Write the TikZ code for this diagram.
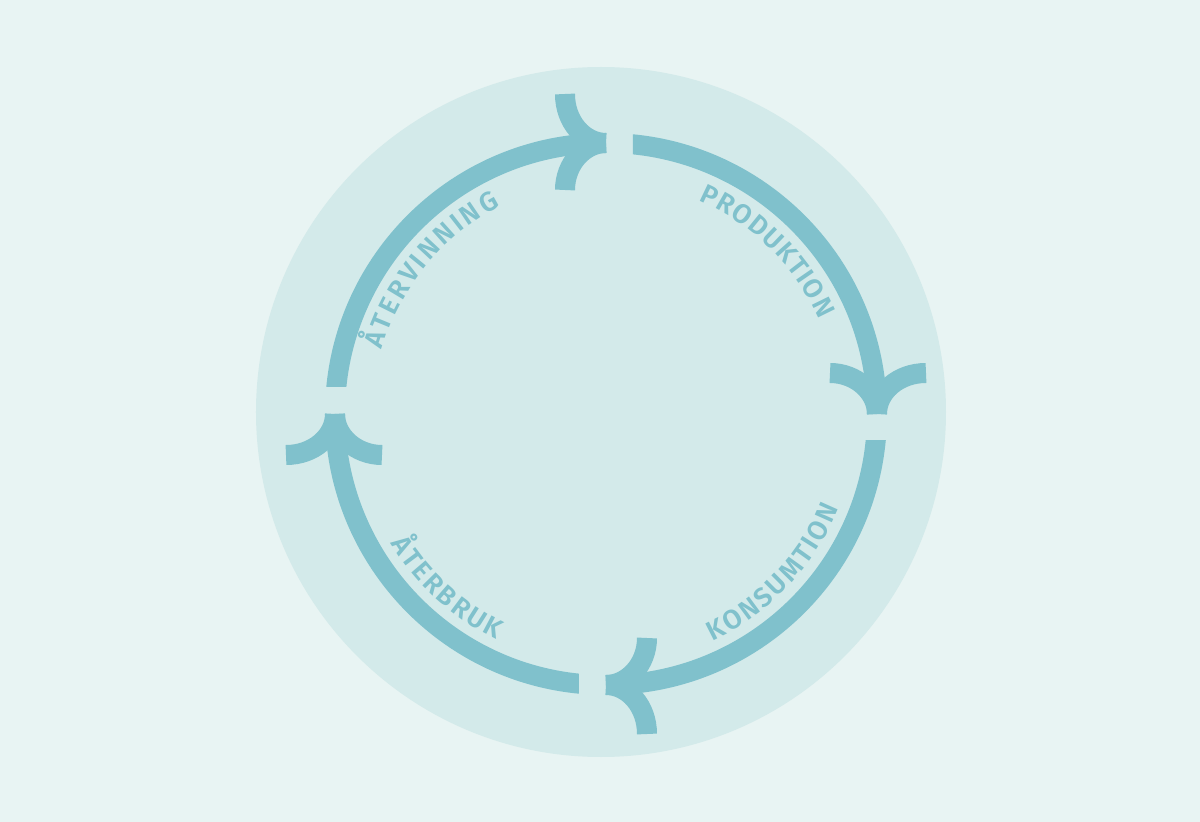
\documentclass[tikz,border=0pt]{standalone}
\usepackage{fontspec}
\usetikzlibrary{decorations.text}
\newfontfamily\lbl{Fira Sans SemiBold}
\definecolor{bgc}{HTML}{E8F4F3}
\definecolor{circc}{HTML}{D3EAEA}
\definecolor{arcc}{HTML}{80C1CC}
\begin{document}
\begin{tikzpicture}[x=1pt,y=1pt,
  ring/.style={draw=arcc, line width=20pt, line cap=butt},
  txt/.style={decorate, decoration={text along path, text align=fit to path, text color=arcc,
     text={|\lbl\fontsize{27}{27}\selectfont|#1}}}]
\fill[bgc] (-606,-408) rectangle (594,414);
\useasboundingbox (-606,-408) rectangle (594,414);
\fill[circc] (-5,2) circle[radius=345pt];
\foreach \r in {0,-90,-180,-270}{
  \begin{scope}[rotate=\r]
    \begin{scope}
      \clip (27,-30) rectangle (400,400);
      \draw[ring] (90:271pt) arc[start angle=90, end angle=0, radius=271pt];
    \end{scope}
    \coordinate (tip) at (271,0);
    \coordinate (eo) at (320,41);
    \coordinate (ei) at (224,41);
    \draw[ring] (tip) .. controls (271,22) and (292,41) .. (eo);
    \draw[ring] (tip) .. controls (271,22) and (250,41) .. (ei);
  \end{scope}
}
\path[txt=PRODUKTION] (66.5:233pt) arc[start angle=66.5, end angle=24, radius=233pt];
\path[txt=ÅTERVINNING] (164:233pt) arc[start angle=164, end angle=117, radius=233pt];
\path[txt=KONSUMTION] (-65:251pt) arc[start angle=-65, end angle=-22, radius=251pt];
\path[txt=ÅTERBRUK] (211:251pt) arc[start angle=211, end angle=244, radius=251pt];
\end{tikzpicture}
\end{document}
